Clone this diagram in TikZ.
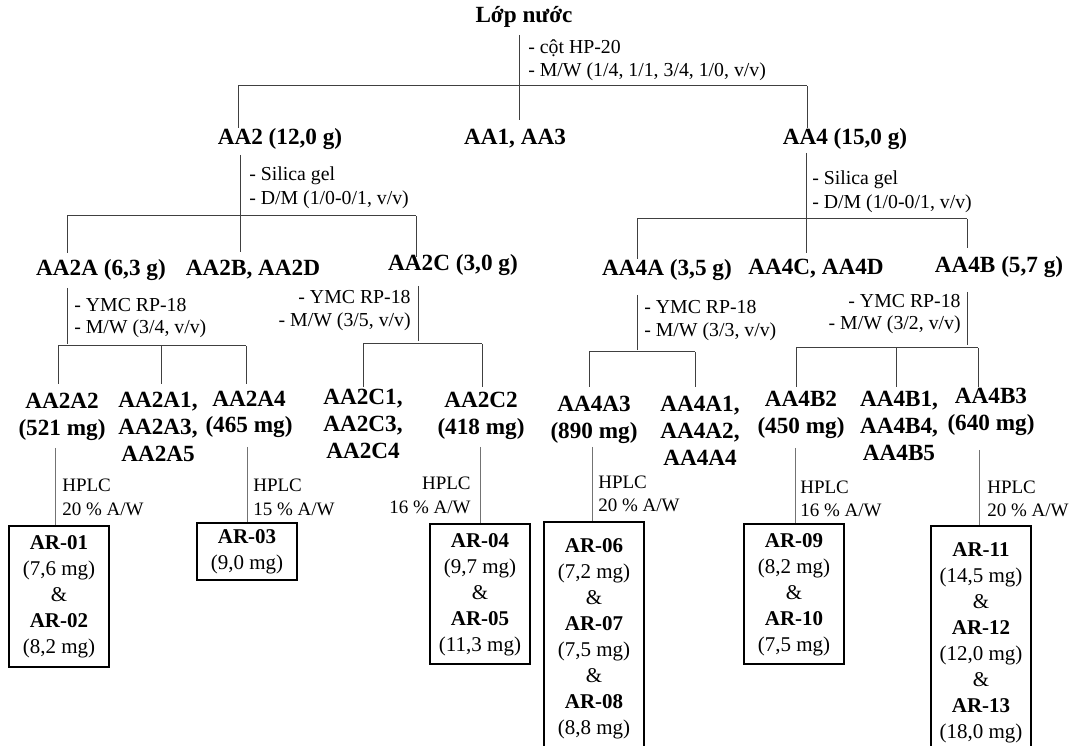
\documentclass[tikz,border=0pt]{standalone}
\usepackage{fontspec}
\setmainfont{Liberation Serif}
\newcommand{\MLc}[1]{\begin{tabular}[t]{@{}c@{}}#1\end{tabular}}
\newcommand{\MLl}[1]{\begin{tabular}[t]{@{}l@{}}#1\end{tabular}}
\newcommand{\MLr}[1]{\begin{tabular}[t]{@{}r@{}}#1\end{tabular}}
\begin{document}
\begin{tikzpicture}[x=0.6pt,y=-0.6pt,
  bt/.style={font=\fontsize{13.92}{16.2}\selectfont\bfseries, inner sep=0pt, anchor=base},
  lab/.style={font=\fontsize{11.88}{#1}\selectfont, inner sep=0pt, anchor=base west},
  labr/.style={lab=#1, anchor=base east},
  hp/.style={font=\fontsize{11.4}{14.4}\selectfont, inner sep=0pt, anchor=base west},
  hpr/.style={hp, anchor=base east},
  res/.style={draw=black, line width=1.2pt, inner sep=0pt, minimum width=60pt, minimum height=#1, anchor=north, font=\fontsize{12.6}{15.6}\selectfont},
  tl/.style={draw=black!75, line width=0.6pt},
  hl/.style={draw=black!55, line width=0.6pt}]
\useasboundingbox (0,0) rectangle (1071,746);
\clip (0,0) rectangle (1071,746);

% ---------- nodes: level 0 / 1 ----------
\node[bt] (root) at (524,23) {Lớp nước};
\node[lab=13.8pt] (l0) at (528,54) {\MLl{- cột HP-20\\- M/W (1/4, 1/1, 3/4, 1/0, v/v)}};
\node[bt] (aa2) at (280,145) {AA2 (12,0 g)};
\node[bt] (aa13) at (515,145) {AA1, AA3};
\node[bt] (aa4) at (845,145) {AA4 (15,0 g)};

% ---------- level 2 ----------
\node[lab=14.4pt] (l2) at (249,181) {\MLl{- Silica gel\\- D/M (1/0-0/1, v/v)}};
\node[lab=14.4pt] (l4) at (812,185) {\MLl{- Silica gel\\- D/M (1/0-0/1, v/v)}};
\node[bt] (aa2a) at (101,276) {AA2A (6,3 g)};
\node[bt] (aa2bd) at (253,276) {AA2B, AA2D};
\node[bt] (aa2c) at (453,271) {AA2C (3,0 g)};
\node[bt] (aa4a) at (667,276) {AA4A (3,5 g)};
\node[bt] (aa4cd) at (816,275) {AA4C, AA4D};
\node[bt] (aa4b) at (999,273) {AA4B (5,7 g)};

% ---------- level 3 labels ----------
\node[lab=13.2pt] (l2a) at (74,312) {\MLl{- YMC RP-18\\- M/W (3/4, v/v)}};
\node[labr=13.8pt] (l2c) at (411,304) {\MLr{- YMC RP-18\\- M/W (3/5, v/v)}};
\node[lab=13.8pt] (l4a) at (644,314) {\MLl{- YMC RP-18\\- M/W (3/3, v/v)}};
\node[labr=13.2pt] (l4b) at (961,308) {\MLr{- YMC RP-18\\- M/W (3/2, v/v)}};

% ---------- level 3 fractions ----------
\node[bt] (aa2a2) at (62,409) {\MLc{AA2A2\\(521 mg)}};
\node[bt] (aa2a135) at (158,408) {\MLc{AA2A1,\\AA2A3,\\AA2A5}};
\node[bt] (aa2a4) at (249,406) {\MLc{AA2A4\\(465 mg)}};
\node[bt] (aa2c134) at (363,405) {\MLc{AA2C1,\\AA2C3,\\AA2C4}};
\node[bt] (aa2c2) at (481,408) {\MLc{AA2C2\\(418 mg)}};
\node[bt] (aa4a3) at (594,412) {\MLc{AA4A3\\(890 mg)}};
\node[bt] (aa4a124) at (700,412) {\MLc{AA4A1,\\AA4A2,\\AA4A4}};
\node[bt] (aa4b2) at (801,407) {\MLc{AA4B2\\(450 mg)}};
\node[bt] (aa4b145) at (899,407) {\MLc{AA4B1,\\AA4B4,\\AA4B5}};
\node[bt] (aa4b3) at (991,404) {\MLc{AA4B3\\(640 mg)}};

% ---------- HPLC labels ----------
\node[hp] (h1) at (62,492) {\MLl{HPLC\\20 \% A/W}};
\node[hp] (h2) at (253,492) {\MLl{HPLC\\15 \% A/W}};
\node[hpr] (h3) at (471,490) {\MLr{HPLC\\16 \% A/W}};
\node[hp] (h4) at (598,488) {\MLl{HPLC\\20 \% A/W}};
\node[hp] (h5) at (800,493) {\MLl{HPLC\\16 \% A/W}};
\node[hp] (h6) at (987,493) {\MLl{HPLC\\20 \% A/W}};

% ---------- result boxes ----------
\node[res=84.6pt] (r1) at (59,525) {\MLc{\textbf{AR-01}\\(7,6 mg)\\\&\\\textbf{AR-02}\\(8,2 mg)}};
\node[res=34.2pt] (r2) at (247,522) {\MLc{\textbf{AR-03}\\(9,0 mg)}};
\node[res=84pt] (r3) at (480,523) {\MLc{\textbf{AR-04}\\(9,7 mg)\\\&\\\textbf{AR-05}\\(11,3 mg)}};
\node[res=139.2pt] (r4) at (594,521) {\MLc{\textbf{AR-06}\\(7,2 mg)\\\&\\\textbf{AR-07}\\(7,5 mg)\\\&\\\textbf{AR-08}\\(8,8 mg)}};
\node[res=84pt] (r5) at (794,523) {\MLc{\textbf{AR-09}\\(8,2 mg)\\\&\\\textbf{AR-10}\\(7,5 mg)}};
\node[res=139.2pt] (r6) at (981,525) {\MLc{\textbf{AR-11}\\(14,5 mg)\\\&\\\textbf{AR-12}\\(12,0 mg)\\\&\\\textbf{AR-13}\\(18,0 mg)}};

% ---------- connectors ----------
\coordinate (j0) at (519,35);
\coordinate (b0l) at (238,86); \coordinate (b0r) at (807,86);
\draw[tl] (j0) -- ++(0,85);
\draw[tl] (b0l) -- (b0r);
\draw[tl] (b0l) -- ++(0,42);
\draw[tl] (b0r) -- ++(0,42);

\coordinate (j2) at (240,155);
\coordinate (b2l) at (67,216); \coordinate (b2r) at (416,216);
\draw[tl] (j2) -- ++(0,97);
\draw[tl] (b2l) -- (b2r);
\draw[tl] (b2l) -- ++(0,37);
\draw[tl] (b2r) -- ++(0,41);

\coordinate (j4) at (806,153);
\coordinate (b4l) at (637,219); \coordinate (b4r) at (967,219);
\draw[tl] (j4) -- ++(0,100);
\draw[tl] (b4l) -- (b4r);
\draw[tl] (b4l) -- ++(0,40);
\draw[tl] (b4r) -- ++(0,29);

\coordinate (j2a) at (67,288);
\coordinate (b2al) at (58,346); \coordinate (b2am) at (161,346); \coordinate (b2ar) at (246,346);
\draw[tl] (j2a) -- ++(0,56);
\draw[tl] (b2al) -- (b2ar);
\foreach \c in {b2al,b2am,b2ar} \draw[tl] (\c) -- ++(0,38);

\coordinate (j2c) at (418,286);
\coordinate (b2cl) at (363,344); \coordinate (b2cr) at (482,344);
\draw[tl] (j2c) -- ++(0,55);
\draw[tl] (b2cl) -- (b2cr);
\foreach \c in {b2cl,b2cr} \draw[tl] (\c) -- ++(0,43);

\coordinate (j4a) at (637,295);
\coordinate (b4al) at (589,352); \coordinate (b4ar) at (695,352);
\draw[tl] (j4a) -- ++(0,55);
\draw[tl] (b4al) -- (b4ar);
\foreach \c in {b4al,b4ar} \draw[tl] (\c) -- ++(0,35);

\coordinate (j4b) at (967,292);
\coordinate (b4bl) at (796,348); \coordinate (b4bm) at (896,348); \coordinate (b4br) at (978,348);
\draw[tl] (j4b) -- ++(0,53);
\draw[tl] (b4bl) -- (b4br);
\foreach \c in {b4bl,b4bm,b4br} \draw[tl] (\c) -- ++(0,39);

% HPLC connectors
\coordinate (p1) at (55,448);
\coordinate (p2) at (247,447);
\coordinate (p3) at (480,447);
\coordinate (p4) at (592,447);
\coordinate (p5) at (795,448);
\coordinate (p6) at (979,450);
\draw[hl] (p1) -- (p1 |- r1.north);
\draw[hl] (p2) -- (p2 |- r2.north);
\draw[hl] (p3) -- (p3 |- r3.north);
\draw[hl] (p4) -- (p4 |- r4.north);
\draw[hl] (p5) -- (p5 |- r5.north);
\draw[hl] (p6) -- (p6 |- r6.north);
\end{tikzpicture}
\end{document}
